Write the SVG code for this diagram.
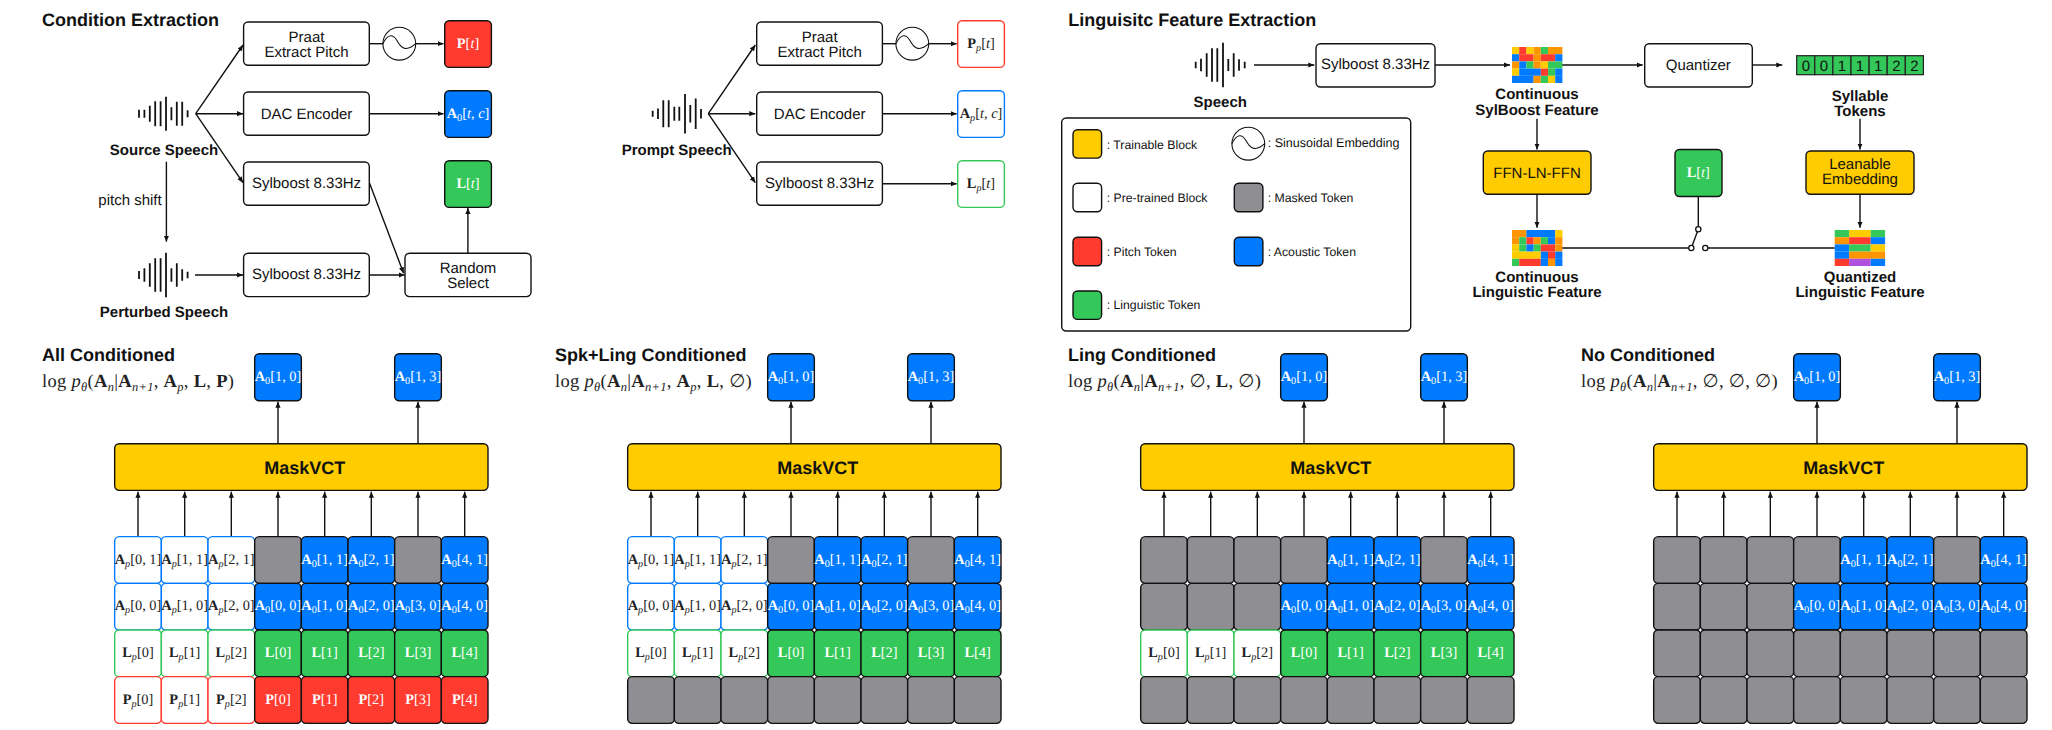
<svg xmlns="http://www.w3.org/2000/svg" width="2052" height="730" viewBox="0 0 2052 730">
<style>
text{font-family:"Liberation Sans",Arial,sans-serif;fill:#111;text-rendering:geometricPrecision}
.h{font-size:18px;font-weight:700}
.l{font-size:15px;font-weight:700;text-anchor:middle}
.r{font-size:15px;text-anchor:middle}
.g{font-size:12.25px}
.m{font-family:"Liberation Serif",serif;font-size:14.4px;text-anchor:middle;fill:#222}
.w{fill:#fff}
.f{font-family:"Liberation Serif",serif;font-size:18.5px;letter-spacing:.3px;fill:#222}
.b{font-weight:700}
.i{font-style:italic}
.s{font-size:10.2px;font-style:italic;baseline-shift:-3px}
.u{font-size:10.2px;baseline-shift:-3px}
.q{font-size:12.5px;font-style:italic;baseline-shift:-4px}
rect{stroke-width:1.4;rx:4.5px;ry:4.5px}
.y{fill:#FFCC00;stroke:#111}
.n{fill:#fff;stroke:#111}
.fb{fill:#007AFF;stroke:#111}
.fg{fill:#34C759;stroke:#111}
.fr{fill:#FF3B30;stroke:#111}
.fk{fill:#8E8E93;stroke:#111}
.wb{fill:#fff;stroke:#007AFF}
.wg{fill:#fff;stroke:#34C759}
.wr{fill:#fff;stroke:#FF3B30}
.c{fill:none;stroke:#111;stroke-width:1.4}
.a{marker-end:url(#arrow)}
.wave{fill:none;stroke:#111;stroke-width:1.8}
.sin{fill:none;stroke:#111;stroke-width:1.1}
.dot{fill:#fff;stroke:#111;stroke-width:1.3}
.hm rect{stroke:none;rx:0;ry:0}
.hY{fill:#FFCC00}.hR{fill:#FF3B30}.hO{fill:#FF9500}.hG{fill:#34C759}.hB{fill:#007AFF}.hP{fill:#AF52DE}
.tk{fill:#34C759;stroke:#222;stroke-width:1.2;rx:0;ry:0}
</style>
<defs>
<marker id="arrow" markerUnits="userSpaceOnUse" markerWidth="8" markerHeight="6" refX="6" refY="3" orient="auto"><path d="M0 .4L6 3L0 5.6z" fill="#111"/></marker>
<g id="panel-arrows">
<path class="c a" d="M138 536.7V491.7"/><path class="c a" d="M184.67 536.7V491.7"/><path class="c a" d="M231.33 536.7V491.7"/><path class="c a" d="M278 536.7V491.7"/>
<path class="c a" d="M324.67 536.7V491.7"/><path class="c a" d="M371.33 536.7V491.7"/><path class="c a" d="M418 536.7V491.7"/><path class="c a" d="M464.67 536.7V491.7"/>
<path class="c a" d="M278 443.7V401.8"/><path class="c a" d="M418 443.7V401.8"/>
</g>
<g id="sine"><circle r="16.4" class="sin"/><path class="sin" d="M-16.4 0C-11-11-6-9-2.5-3.5C1 3 6 9.5 16.4 0"/></g>
</defs>
<g id="connectors">
<path class="c a" d="M195.7 113.7L243 45"/>
<path class="c a" d="M195.7 113.7H243"/>
<path class="c a" d="M195.7 113.7L243 182.7"/>
<path class="c a" d="M166.4 161.7V241.7"/>
<path class="c a" d="M195 275H243"/>
<path class="c a" d="M369.6 183.3L403.6 273.3"/>
<path class="c a" d="M369.3 275H404.5"/>
<path class="c a" d="M467.9 253.3V208"/>
<path class="c" d="M369.3 43.7H383"/>
<path class="c a" d="M415.7 43.7H443.5"/>
<path class="c a" d="M369.3 113.7H443.5"/>
<path class="c a" d="M708.3 113.7L755.3 45"/>
<path class="c a" d="M708.3 113.7H755.3"/>
<path class="c a" d="M708.3 113.7L755.3 182.7"/>
<path class="c" d="M882.3 43.7H896"/>
<path class="c a" d="M928.7 43.7H956.7"/>
<path class="c a" d="M882.3 113.7H956.7"/>
<path class="c a" d="M882.3 183.7H956.7"/>
<path class="c a" d="M1254 65H1314.3"/>
<path class="c a" d="M1435 65H1510"/>
<path class="c a" d="M1562 65H1642.7"/>
<path class="c a" d="M1752.3 65H1782.3"/>
<path class="c a" d="M1537 118.7V149.5"/>
<path class="c a" d="M1537 194.3V227.7"/>
<path class="c a" d="M1860 118.7V149.5"/>
<path class="c a" d="M1860 194.3V227.7"/>
<path class="c" d="M1698.3 196.3V226.7"/>
<path class="c" d="M1562 248H1688.6"/>
<path class="c" d="M1708 248H1834.7"/>
<path class="c" d="M1691.3 248L1698.3 229.3"/>
<use href="#panel-arrows"/>
<use href="#panel-arrows" x="513"/>
<use href="#panel-arrows" x="1026"/>
<use href="#panel-arrows" x="1539"/>
</g>
<g id="switch">
<circle class="dot" cx="1698.3" cy="229.3" r="2.6"/>
<circle class="dot" cx="1691.3" cy="248" r="2.6"/>
<circle class="dot" cx="1705.3" cy="248" r="2.6"/>
</g>
<text class="h" x="42" y="25.7">Condition Extraction</text>
<text class="h" x="1068.3" y="25.7">Linguisitc Feature Extraction</text>
<g id="source-speech"><path class="wave" d="M139 109.7v8M144.4 109.7v8M149.8 105.7v16M155.2 101.2v25M160.6 101.2v25M166 96.7v34M171.4 107.2v13M176.8 101.7v24M182.2 101.7v24M187.6 110.2v7"/><text class="l" x="164" y="155.3">Source Speech</text></g>
<g id="perturbed-speech"><path class="wave" d="M139 271v8M144.4 268.3v13.4M149.8 263.3v23.4M155.2 258.3v33.4M160.6 258.3v33.4M166 252.7v44.6M171.4 268.3v13.4M176.8 263.3v23.4M182.2 269.3v11.4M187.6 271.7v6.6"/><text class="l" x="164" y="316.7">Perturbed Speech</text></g>
<text id="pitch-shift" class="r" x="130" y="205">pitch shift</text>
<g id="praat-1"><rect class="n" x="243.6" y="22" width="125.7" height="43.3"/><text class="r" x="306.5" y="41.7">Praat</text><text class="r" x="306.5" y="57">Extract Pitch</text></g>
<g id="dac-1"><rect class="n" x="243.6" y="92" width="125.7" height="43.3"/><text class="r" x="306.5" y="119">DAC Encoder</text></g>
<g id="sylboost-1"><rect class="n" x="243.6" y="162" width="125.7" height="43.3"/><text class="r" x="306.5" y="187.5">Sylboost 8.33Hz</text></g>
<g id="sylboost-2"><rect class="n" x="243.6" y="253.3" width="125.7" height="43.3"/><text class="r" x="306.5" y="279">Sylboost 8.33Hz</text></g>
<g id="random-select"><rect class="n" x="405" y="253.3" width="126" height="43.3"/><text class="r" x="468" y="273">Random</text><text class="r" x="468" y="288.3">Select</text></g>
<use id="sine-1" href="#sine" x="399.3" y="43.7"/>
<g id="token-p"><rect class="fr" x="444.7" y="20.7" width="46.7" height="46.7"/><text class="m w" x="468" y="47.7"><tspan class="b">P</tspan>[<tspan class="i">t</tspan>]</text></g>
<g id="token-a"><rect class="fb" x="444.7" y="90.7" width="46.7" height="46.7"/><text class="m w" x="468" y="117.7"><tspan class="b">A</tspan><tspan class="u">0</tspan>[<tspan class="i">t, c</tspan>]</text></g>
<g id="token-l"><rect class="fg" x="444.7" y="160.7" width="46.7" height="46.7"/><text class="m w" x="468" y="187.7"><tspan class="b">L</tspan>[<tspan class="i">t</tspan>]</text></g>
<g id="prompt-speech"><path class="wave" d="M652.7 110.7v6M658 108.4v10.6M663.3 100.2v27M668.7 100.2v27M674.3 106.7v14M679.3 106.7v14M685 94v39.4M690.3 105v17.4M695.7 98.4v30.6M701 109v9.4"/><text class="l" x="676.7" y="155.3">Prompt Speech</text></g>
<g id="praat-2"><rect class="n" x="756.7" y="22" width="125.7" height="43.3"/><text class="r" x="819.7" y="41.7">Praat</text><text class="r" x="819.7" y="57">Extract Pitch</text></g>
<g id="dac-2"><rect class="n" x="756.7" y="92" width="125.7" height="43.3"/><text class="r" x="819.7" y="119">DAC Encoder</text></g>
<g id="sylboost-3"><rect class="n" x="756.7" y="162" width="125.7" height="43.3"/><text class="r" x="819.7" y="187.5">Sylboost 8.33Hz</text></g>
<use id="sine-2" href="#sine" x="912.3" y="43.7"/>
<g id="token-pp"><rect class="wr" x="957.7" y="20.7" width="46.7" height="46.7"/><text class="m" x="981" y="47.7"><tspan class="b">P</tspan><tspan class="s">p</tspan>[<tspan class="i">t</tspan>]</text></g>
<g id="token-ap"><rect class="wb" x="957.7" y="90.7" width="46.7" height="46.7"/><text class="m" x="981" y="117.7"><tspan class="b">A</tspan><tspan class="s">p</tspan>[<tspan class="i">t, c</tspan>]</text></g>
<g id="token-lp"><rect class="wg" x="957.7" y="160.7" width="46.7" height="46.7"/><text class="m" x="981" y="187.7"><tspan class="b">L</tspan><tspan class="s">p</tspan>[<tspan class="i">t</tspan>]</text></g>
<g id="speech"><path class="wave" d="M1195.7 61.7v6.6M1201 58.7v12.6M1206.7 53.3v23.4M1212 48.3v33.4M1217.3 48.3v33.4M1223 42.7v44.6M1228.3 59v12M1233.7 53.3v23.4M1239 59.3v11.4M1244.7 61.7v6.6"/><text class="l" x="1220.3" y="107">Speech</text></g>
<g id="sylboost-4"><rect class="n" x="1316" y="43.7" width="119" height="43.3"/><text class="r" x="1375.5" y="69.3">Sylboost 8.33Hz</text></g>
<g id="heatmap-1" class="hm">
<rect class="hY" x="1512" y="47" width="7.2" height="7.2"/><rect class="hR" x="1519.2" y="47" width="7.2" height="7.2"/><rect class="hY" x="1526.4" y="47" width="7.2" height="7.2"/><rect class="hO" x="1533.6" y="47" width="7.2" height="7.2"/><rect class="hG" x="1540.8" y="47" width="7.2" height="7.2"/><rect class="hO" x="1548" y="47" width="14.4" height="7.2"/>
<rect class="hB" x="1512" y="54.2" width="7.2" height="7.2"/><rect class="hR" x="1519.2" y="54.2" width="14.4" height="7.2"/><rect class="hO" x="1533.6" y="54.2" width="7.2" height="7.2"/><rect class="hR" x="1540.8" y="54.2" width="14.4" height="7.2"/><rect class="hB" x="1555.2" y="54.2" width="7.2" height="7.2"/>
<rect class="hO" x="1512" y="61.4" width="7.2" height="7.2"/><rect class="hB" x="1519.2" y="61.4" width="7.2" height="7.2"/><rect class="hG" x="1526.4" y="61.4" width="7.2" height="7.2"/><rect class="hO" x="1533.6" y="61.4" width="7.2" height="7.2"/><rect class="hY" x="1540.8" y="61.4" width="7.2" height="7.2"/><rect class="hG" x="1548" y="61.4" width="14.4" height="7.2"/>
<rect class="hY" x="1512" y="68.6" width="7.2" height="7.2"/><rect class="hB" x="1519.2" y="68.6" width="21.6" height="7.2"/><rect class="hR" x="1540.8" y="68.6" width="7.2" height="7.2"/><rect class="hG" x="1548" y="68.6" width="7.2" height="7.2"/><rect class="hB" x="1555.2" y="68.6" width="7.2" height="7.2"/>
<rect class="hB" x="1512" y="75.8" width="21.6" height="7.2"/><rect class="hO" x="1533.6" y="75.8" width="7.2" height="7.2"/><rect class="hG" x="1540.8" y="75.8" width="7.2" height="7.2"/><rect class="hY" x="1548" y="75.8" width="7.2" height="7.2"/><rect class="hB" x="1555.2" y="75.8" width="7.2" height="7.2"/>
</g>
<g id="heatmap-label-1"><text class="l" x="1537" y="99.3">Continuous</text><text class="l" x="1537" y="114.7">SylBoost Feature</text></g>
<g id="ffn"><rect class="y" x="1483.3" y="151" width="107.7" height="43.3"/><text class="r" x="1537" y="178">FFN-LN-FFN</text></g>
<g id="heatmap-2" class="hm">
<rect class="hO" x="1512" y="230" width="14.4" height="7.2"/><rect class="hB" x="1526.4" y="230" width="28.8" height="7.2"/><rect class="hY" x="1555.2" y="230" width="7.2" height="7.2"/>
<rect class="hO" x="1512" y="237.2" width="7.2" height="7.2"/><rect class="hG" x="1519.2" y="237.2" width="7.2" height="7.2"/><rect class="hR" x="1526.4" y="237.2" width="7.2" height="7.2"/><rect class="hO" x="1533.6" y="237.2" width="7.2" height="7.2"/><rect class="hG" x="1540.8" y="237.2" width="7.2" height="7.2"/><rect class="hB" x="1548" y="237.2" width="7.2" height="7.2"/><rect class="hO" x="1555.2" y="237.2" width="7.2" height="7.2"/>
<rect class="hY" x="1512" y="244.4" width="7.2" height="7.2"/><rect class="hG" x="1519.2" y="244.4" width="7.2" height="7.2"/><rect class="hB" x="1526.4" y="244.4" width="7.2" height="7.2"/><rect class="hG" x="1533.6" y="244.4" width="7.2" height="7.2"/><rect class="hR" x="1540.8" y="244.4" width="14.4" height="7.2"/><rect class="hO" x="1555.2" y="244.4" width="7.2" height="7.2"/>
<rect class="hY" x="1512" y="251.6" width="28.8" height="7.2"/><rect class="hB" x="1540.8" y="251.6" width="7.2" height="7.2"/><rect class="hR" x="1548" y="251.6" width="7.2" height="7.2"/><rect class="hB" x="1555.2" y="251.6" width="7.2" height="7.2"/>
<rect class="hG" x="1512" y="258.8" width="7.2" height="7.2"/><rect class="hR" x="1519.2" y="258.8" width="21.6" height="7.2"/><rect class="hB" x="1540.8" y="258.8" width="7.2" height="7.2"/><rect class="hO" x="1548" y="258.8" width="7.2" height="7.2"/><rect class="hB" x="1555.2" y="258.8" width="7.2" height="7.2"/>
</g>
<g id="heatmap-label-2"><text class="l" x="1537" y="282">Continuous</text><text class="l" x="1537" y="297.3">Linguistic Feature</text></g>
<g id="quantizer"><rect class="n" x="1644.7" y="43.7" width="107.6" height="43.3"/><text class="r" x="1698.3" y="70">Quantizer</text></g>
<g id="syllable-tokens">
<rect class="tk" x="1796.7" y="55.7" width="18.1" height="19"/><rect class="tk" x="1814.8" y="55.7" width="18.1" height="19"/><rect class="tk" x="1832.9" y="55.7" width="18.1" height="19"/><rect class="tk" x="1851" y="55.7" width="18.1" height="19"/><rect class="tk" x="1869.1" y="55.7" width="18.1" height="19"/><rect class="tk" x="1887.2" y="55.7" width="18.1" height="19"/><rect class="tk" x="1905.3" y="55.7" width="18.1" height="19"/>
<text class="r" x="1805.8" y="70.5">0</text><text class="r" x="1823.9" y="70.5">0</text><text class="r" x="1842" y="70.5">1</text><text class="r" x="1860" y="70.5">1</text><text class="r" x="1878.2" y="70.5">1</text><text class="r" x="1896.3" y="70.5">2</text><text class="r" x="1914.4" y="70.5">2</text>
<text class="l" x="1860" y="101">Syllable</text><text class="l" x="1860" y="116.3">Tokens</text></g>
<g id="learnable-embedding"><rect class="y" x="1806" y="151" width="108" height="43.3"/><text class="r" x="1860" y="169">Leanable</text><text class="r" x="1860" y="184.3">Embedding</text></g>
<g id="token-l-switch"><rect class="fg" x="1675" y="149.5" width="47" height="47"/><text class="m w" x="1698.3" y="176.5"><tspan class="b">L</tspan>[<tspan class="i">t</tspan>]</text></g>
<g id="heatmap-3" class="hm">
<rect class="hG" x="1834.7" y="230" width="14.4" height="7.2"/><rect class="hY" x="1849.1" y="230" width="21.6" height="7.2"/><rect class="hG" x="1870.7" y="230" width="14.4" height="7.2"/>
<rect class="hO" x="1834.7" y="237.2" width="14.4" height="7.2"/><rect class="hR" x="1849.1" y="237.2" width="21.6" height="7.2"/><rect class="hB" x="1870.7" y="237.2" width="14.4" height="7.2"/>
<rect class="hB" x="1834.7" y="244.4" width="14.4" height="7.2"/><rect class="hG" x="1849.1" y="244.4" width="21.6" height="7.2"/><rect class="hY" x="1870.7" y="244.4" width="14.4" height="7.2"/>
<rect class="hB" x="1834.7" y="251.6" width="14.4" height="7.2"/><rect class="hO" x="1849.1" y="251.6" width="36" height="7.2"/>
<rect class="hR" x="1834.7" y="258.8" width="14.4" height="7.2"/><rect class="hP" x="1849.1" y="258.8" width="21.6" height="7.2"/><rect class="hB" x="1870.7" y="258.8" width="14.4" height="7.2"/>
</g>
<g id="heatmap-label-3"><text class="l" x="1860" y="282">Quantized</text><text class="l" x="1860" y="297.3">Linguistic Feature</text></g>
<g id="legend">
<rect class="n" x="1061.7" y="118" width="349" height="213"/>
<rect class="y" x="1073" y="129.7" width="28.6" height="28.4"/><text class="g" x="1106.7" y="148.5">: Trainable Block</text>
<rect class="n" x="1073" y="183.3" width="28.6" height="28.4"/><text class="g" x="1106.7" y="202.3">: Pre-trained Block</text>
<rect class="fr" x="1073" y="237.3" width="28.6" height="28.4"/><text class="g" x="1106.7" y="256">: Pitch Token</text>
<rect class="fg" x="1073" y="291" width="28.6" height="28.4"/><text class="g" x="1106.7" y="308.7">: Linguistic Token</text>
<use href="#sine" x="1248.3" y="143.7"/><text class="g" x="1267.7" y="147.3" style="font-size:12.55px">: Sinusoidal Embedding</text>
<rect class="fk" x="1234.3" y="183.3" width="28.6" height="28.4"/><text class="g" x="1267.7" y="202.3">: Masked Token</text>
<rect class="fb" x="1234.3" y="237.3" width="28.6" height="28.4"/><text class="g" x="1267.7" y="256">: Acoustic Token</text>
</g>
<g id="panel-1">
<text class="h" x="42" y="361">All Conditioned</text>
<text class="f" x="42" y="386.7">log <tspan class="i">p</tspan><tspan class="q">θ</tspan>(<tspan class="b">A</tspan><tspan class="q">n</tspan>|<tspan class="b">A</tspan><tspan class="q">n+1</tspan>, <tspan class="b">A</tspan><tspan class="q">p</tspan>, <tspan class="b">L</tspan>, <tspan class="b">P</tspan>)</text>
<g id="p1-out0"><rect class="fb" x="254.67" y="353.7" width="46.67" height="47"/><text class="m w" x="278" y="381.3"><tspan class="b">A</tspan><tspan class="u">0</tspan>[1, 0]</text></g>
<g id="p1-out3"><rect class="fb" x="394.67" y="353.7" width="46.67" height="47"/><text class="m w" x="418" y="381.3"><tspan class="b">A</tspan><tspan class="u">0</tspan>[1, 3]</text></g>
<g id="p1-model"><rect class="y" x="114.67" y="443.7" width="373.33" height="46.67"/><text class="h" x="304.7" y="474" text-anchor="middle">MaskVCT</text></g>
<g id="p1-r0c0"><rect class="wb" x="114.67" y="536.67" width="46.67" height="46.67"/><text class="m" x="138" y="563.5"><tspan class="b">A</tspan><tspan class="s">p</tspan>[0, 1]</text></g>
<g id="p1-r0c1"><rect class="wb" x="161.33" y="536.67" width="46.67" height="46.67"/><text class="m" x="184.67" y="563.5"><tspan class="b">A</tspan><tspan class="s">p</tspan>[1, 1]</text></g>
<g id="p1-r0c2"><rect class="wb" x="208" y="536.67" width="46.67" height="46.67"/><text class="m" x="231.33" y="563.5"><tspan class="b">A</tspan><tspan class="s">p</tspan>[2, 1]</text></g>
<g id="p1-r0c3"><rect class="fk" x="254.67" y="536.67" width="46.67" height="46.67"/></g>
<g id="p1-r0c4"><rect class="fb" x="301.33" y="536.67" width="46.67" height="46.67"/><text class="m w" x="324.67" y="563.5"><tspan class="b">A</tspan><tspan class="u">0</tspan>[1, 1]</text></g>
<g id="p1-r0c5"><rect class="fb" x="348" y="536.67" width="46.67" height="46.67"/><text class="m w" x="371.33" y="563.5"><tspan class="b">A</tspan><tspan class="u">0</tspan>[2, 1]</text></g>
<g id="p1-r0c6"><rect class="fk" x="394.67" y="536.67" width="46.67" height="46.67"/></g>
<g id="p1-r0c7"><rect class="fb" x="441.33" y="536.67" width="46.67" height="46.67"/><text class="m w" x="464.67" y="563.5"><tspan class="b">A</tspan><tspan class="u">0</tspan>[4, 1]</text></g>
<g id="p1-r1c0"><rect class="wb" x="114.67" y="583.33" width="46.67" height="46.67"/><text class="m" x="138" y="610"><tspan class="b">A</tspan><tspan class="s">p</tspan>[0, 0]</text></g>
<g id="p1-r1c1"><rect class="wb" x="161.33" y="583.33" width="46.67" height="46.67"/><text class="m" x="184.67" y="610"><tspan class="b">A</tspan><tspan class="s">p</tspan>[1, 0]</text></g>
<g id="p1-r1c2"><rect class="wb" x="208" y="583.33" width="46.67" height="46.67"/><text class="m" x="231.33" y="610"><tspan class="b">A</tspan><tspan class="s">p</tspan>[2, 0]</text></g>
<g id="p1-r1c3"><rect class="fb" x="254.67" y="583.33" width="46.67" height="46.67"/><text class="m w" x="278" y="610"><tspan class="b">A</tspan><tspan class="u">0</tspan>[0, 0]</text></g>
<g id="p1-r1c4"><rect class="fb" x="301.33" y="583.33" width="46.67" height="46.67"/><text class="m w" x="324.67" y="610"><tspan class="b">A</tspan><tspan class="u">0</tspan>[1, 0]</text></g>
<g id="p1-r1c5"><rect class="fb" x="348" y="583.33" width="46.67" height="46.67"/><text class="m w" x="371.33" y="610"><tspan class="b">A</tspan><tspan class="u">0</tspan>[2, 0]</text></g>
<g id="p1-r1c6"><rect class="fb" x="394.67" y="583.33" width="46.67" height="46.67"/><text class="m w" x="418" y="610"><tspan class="b">A</tspan><tspan class="u">0</tspan>[3, 0]</text></g>
<g id="p1-r1c7"><rect class="fb" x="441.33" y="583.33" width="46.67" height="46.67"/><text class="m w" x="464.67" y="610"><tspan class="b">A</tspan><tspan class="u">0</tspan>[4, 0]</text></g>
<g id="p1-r2c0"><rect class="wg" x="114.67" y="630" width="46.67" height="46.67"/><text class="m" x="138" y="657"><tspan class="b">L</tspan><tspan class="s">p</tspan>[0]</text></g>
<g id="p1-r2c1"><rect class="wg" x="161.33" y="630" width="46.67" height="46.67"/><text class="m" x="184.67" y="657"><tspan class="b">L</tspan><tspan class="s">p</tspan>[1]</text></g>
<g id="p1-r2c2"><rect class="wg" x="208" y="630" width="46.67" height="46.67"/><text class="m" x="231.33" y="657"><tspan class="b">L</tspan><tspan class="s">p</tspan>[2]</text></g>
<g id="p1-r2c3"><rect class="fg" x="254.67" y="630" width="46.67" height="46.67"/><text class="m w" x="278" y="657"><tspan class="b">L</tspan>[0]</text></g>
<g id="p1-r2c4"><rect class="fg" x="301.33" y="630" width="46.67" height="46.67"/><text class="m w" x="324.67" y="657"><tspan class="b">L</tspan>[1]</text></g>
<g id="p1-r2c5"><rect class="fg" x="348" y="630" width="46.67" height="46.67"/><text class="m w" x="371.33" y="657"><tspan class="b">L</tspan>[2]</text></g>
<g id="p1-r2c6"><rect class="fg" x="394.67" y="630" width="46.67" height="46.67"/><text class="m w" x="418" y="657"><tspan class="b">L</tspan>[3]</text></g>
<g id="p1-r2c7"><rect class="fg" x="441.33" y="630" width="46.67" height="46.67"/><text class="m w" x="464.67" y="657"><tspan class="b">L</tspan>[4]</text></g>
<g id="p1-r3c0"><rect class="wr" x="114.67" y="676.67" width="46.67" height="46.67"/><text class="m" x="138" y="704"><tspan class="b">P</tspan><tspan class="s">p</tspan>[0]</text></g>
<g id="p1-r3c1"><rect class="wr" x="161.33" y="676.67" width="46.67" height="46.67"/><text class="m" x="184.67" y="704"><tspan class="b">P</tspan><tspan class="s">p</tspan>[1]</text></g>
<g id="p1-r3c2"><rect class="wr" x="208" y="676.67" width="46.67" height="46.67"/><text class="m" x="231.33" y="704"><tspan class="b">P</tspan><tspan class="s">p</tspan>[2]</text></g>
<g id="p1-r3c3"><rect class="fr" x="254.67" y="676.67" width="46.67" height="46.67"/><text class="m w" x="278" y="704"><tspan class="b">P</tspan>[0]</text></g>
<g id="p1-r3c4"><rect class="fr" x="301.33" y="676.67" width="46.67" height="46.67"/><text class="m w" x="324.67" y="704"><tspan class="b">P</tspan>[1]</text></g>
<g id="p1-r3c5"><rect class="fr" x="348" y="676.67" width="46.67" height="46.67"/><text class="m w" x="371.33" y="704"><tspan class="b">P</tspan>[2]</text></g>
<g id="p1-r3c6"><rect class="fr" x="394.67" y="676.67" width="46.67" height="46.67"/><text class="m w" x="418" y="704"><tspan class="b">P</tspan>[3]</text></g>
<g id="p1-r3c7"><rect class="fr" x="441.33" y="676.67" width="46.67" height="46.67"/><text class="m w" x="464.67" y="704"><tspan class="b">P</tspan>[4]</text></g>
</g>
<g id="panel-2" transform="translate(513 0)">
<text class="h" x="42" y="361">Spk+Ling Conditioned</text>
<text class="f" x="42" y="386.7">log <tspan class="i">p</tspan><tspan class="q">θ</tspan>(<tspan class="b">A</tspan><tspan class="q">n</tspan>|<tspan class="b">A</tspan><tspan class="q">n+1</tspan>, <tspan class="b">A</tspan><tspan class="q">p</tspan>, <tspan class="b">L</tspan>, ∅)</text>
<g id="p2-out0"><rect class="fb" x="254.67" y="353.7" width="46.67" height="47"/><text class="m w" x="278" y="381.3"><tspan class="b">A</tspan><tspan class="u">0</tspan>[1, 0]</text></g>
<g id="p2-out3"><rect class="fb" x="394.67" y="353.7" width="46.67" height="47"/><text class="m w" x="418" y="381.3"><tspan class="b">A</tspan><tspan class="u">0</tspan>[1, 3]</text></g>
<g id="p2-model"><rect class="y" x="114.67" y="443.7" width="373.33" height="46.67"/><text class="h" x="304.7" y="474" text-anchor="middle">MaskVCT</text></g>
<g id="p2-r0c0"><rect class="wb" x="114.67" y="536.67" width="46.67" height="46.67"/><text class="m" x="138" y="563.5"><tspan class="b">A</tspan><tspan class="s">p</tspan>[0, 1]</text></g>
<g id="p2-r0c1"><rect class="wb" x="161.33" y="536.67" width="46.67" height="46.67"/><text class="m" x="184.67" y="563.5"><tspan class="b">A</tspan><tspan class="s">p</tspan>[1, 1]</text></g>
<g id="p2-r0c2"><rect class="wb" x="208" y="536.67" width="46.67" height="46.67"/><text class="m" x="231.33" y="563.5"><tspan class="b">A</tspan><tspan class="s">p</tspan>[2, 1]</text></g>
<g id="p2-r0c3"><rect class="fk" x="254.67" y="536.67" width="46.67" height="46.67"/></g>
<g id="p2-r0c4"><rect class="fb" x="301.33" y="536.67" width="46.67" height="46.67"/><text class="m w" x="324.67" y="563.5"><tspan class="b">A</tspan><tspan class="u">0</tspan>[1, 1]</text></g>
<g id="p2-r0c5"><rect class="fb" x="348" y="536.67" width="46.67" height="46.67"/><text class="m w" x="371.33" y="563.5"><tspan class="b">A</tspan><tspan class="u">0</tspan>[2, 1]</text></g>
<g id="p2-r0c6"><rect class="fk" x="394.67" y="536.67" width="46.67" height="46.67"/></g>
<g id="p2-r0c7"><rect class="fb" x="441.33" y="536.67" width="46.67" height="46.67"/><text class="m w" x="464.67" y="563.5"><tspan class="b">A</tspan><tspan class="u">0</tspan>[4, 1]</text></g>
<g id="p2-r1c0"><rect class="wb" x="114.67" y="583.33" width="46.67" height="46.67"/><text class="m" x="138" y="610"><tspan class="b">A</tspan><tspan class="s">p</tspan>[0, 0]</text></g>
<g id="p2-r1c1"><rect class="wb" x="161.33" y="583.33" width="46.67" height="46.67"/><text class="m" x="184.67" y="610"><tspan class="b">A</tspan><tspan class="s">p</tspan>[1, 0]</text></g>
<g id="p2-r1c2"><rect class="wb" x="208" y="583.33" width="46.67" height="46.67"/><text class="m" x="231.33" y="610"><tspan class="b">A</tspan><tspan class="s">p</tspan>[2, 0]</text></g>
<g id="p2-r1c3"><rect class="fb" x="254.67" y="583.33" width="46.67" height="46.67"/><text class="m w" x="278" y="610"><tspan class="b">A</tspan><tspan class="u">0</tspan>[0, 0]</text></g>
<g id="p2-r1c4"><rect class="fb" x="301.33" y="583.33" width="46.67" height="46.67"/><text class="m w" x="324.67" y="610"><tspan class="b">A</tspan><tspan class="u">0</tspan>[1, 0]</text></g>
<g id="p2-r1c5"><rect class="fb" x="348" y="583.33" width="46.67" height="46.67"/><text class="m w" x="371.33" y="610"><tspan class="b">A</tspan><tspan class="u">0</tspan>[2, 0]</text></g>
<g id="p2-r1c6"><rect class="fb" x="394.67" y="583.33" width="46.67" height="46.67"/><text class="m w" x="418" y="610"><tspan class="b">A</tspan><tspan class="u">0</tspan>[3, 0]</text></g>
<g id="p2-r1c7"><rect class="fb" x="441.33" y="583.33" width="46.67" height="46.67"/><text class="m w" x="464.67" y="610"><tspan class="b">A</tspan><tspan class="u">0</tspan>[4, 0]</text></g>
<g id="p2-r2c0"><rect class="wg" x="114.67" y="630" width="46.67" height="46.67"/><text class="m" x="138" y="657"><tspan class="b">L</tspan><tspan class="s">p</tspan>[0]</text></g>
<g id="p2-r2c1"><rect class="wg" x="161.33" y="630" width="46.67" height="46.67"/><text class="m" x="184.67" y="657"><tspan class="b">L</tspan><tspan class="s">p</tspan>[1]</text></g>
<g id="p2-r2c2"><rect class="wg" x="208" y="630" width="46.67" height="46.67"/><text class="m" x="231.33" y="657"><tspan class="b">L</tspan><tspan class="s">p</tspan>[2]</text></g>
<g id="p2-r2c3"><rect class="fg" x="254.67" y="630" width="46.67" height="46.67"/><text class="m w" x="278" y="657"><tspan class="b">L</tspan>[0]</text></g>
<g id="p2-r2c4"><rect class="fg" x="301.33" y="630" width="46.67" height="46.67"/><text class="m w" x="324.67" y="657"><tspan class="b">L</tspan>[1]</text></g>
<g id="p2-r2c5"><rect class="fg" x="348" y="630" width="46.67" height="46.67"/><text class="m w" x="371.33" y="657"><tspan class="b">L</tspan>[2]</text></g>
<g id="p2-r2c6"><rect class="fg" x="394.67" y="630" width="46.67" height="46.67"/><text class="m w" x="418" y="657"><tspan class="b">L</tspan>[3]</text></g>
<g id="p2-r2c7"><rect class="fg" x="441.33" y="630" width="46.67" height="46.67"/><text class="m w" x="464.67" y="657"><tspan class="b">L</tspan>[4]</text></g>
<g id="p2-r3"><rect class="fk" x="114.67" y="676.67" width="46.67" height="46.67"/><rect class="fk" x="161.33" y="676.67" width="46.67" height="46.67"/><rect class="fk" x="208" y="676.67" width="46.67" height="46.67"/><rect class="fk" x="254.67" y="676.67" width="46.67" height="46.67"/><rect class="fk" x="301.33" y="676.67" width="46.67" height="46.67"/><rect class="fk" x="348" y="676.67" width="46.67" height="46.67"/><rect class="fk" x="394.67" y="676.67" width="46.67" height="46.67"/><rect class="fk" x="441.33" y="676.67" width="46.67" height="46.67"/></g>
</g>
<g id="panel-3" transform="translate(1026 0)">
<text class="h" x="42" y="361">Ling Conditioned</text>
<text class="f" x="42" y="386.7">log <tspan class="i">p</tspan><tspan class="q">θ</tspan>(<tspan class="b">A</tspan><tspan class="q">n</tspan>|<tspan class="b">A</tspan><tspan class="q">n+1</tspan>, ∅, <tspan class="b">L</tspan>, ∅)</text>
<g id="p3-out0"><rect class="fb" x="254.67" y="353.7" width="46.67" height="47"/><text class="m w" x="278" y="381.3"><tspan class="b">A</tspan><tspan class="u">0</tspan>[1, 0]</text></g>
<g id="p3-out3"><rect class="fb" x="394.67" y="353.7" width="46.67" height="47"/><text class="m w" x="418" y="381.3"><tspan class="b">A</tspan><tspan class="u">0</tspan>[1, 3]</text></g>
<g id="p3-model"><rect class="y" x="114.67" y="443.7" width="373.33" height="46.67"/><text class="h" x="304.7" y="474" text-anchor="middle">MaskVCT</text></g>
<g id="p3-r0m"><rect class="fk" x="114.67" y="536.67" width="46.67" height="46.67"/><rect class="fk" x="161.33" y="536.67" width="46.67" height="46.67"/><rect class="fk" x="208" y="536.67" width="46.67" height="46.67"/><rect class="fk" x="254.67" y="536.67" width="46.67" height="46.67"/></g>
<g id="p3-r0c4"><rect class="fb" x="301.33" y="536.67" width="46.67" height="46.67"/><text class="m w" x="324.67" y="563.5"><tspan class="b">A</tspan><tspan class="u">0</tspan>[1, 1]</text></g>
<g id="p3-r0c5"><rect class="fb" x="348" y="536.67" width="46.67" height="46.67"/><text class="m w" x="371.33" y="563.5"><tspan class="b">A</tspan><tspan class="u">0</tspan>[2, 1]</text></g>
<g id="p3-r0c6"><rect class="fk" x="394.67" y="536.67" width="46.67" height="46.67"/></g>
<g id="p3-r0c7"><rect class="fb" x="441.33" y="536.67" width="46.67" height="46.67"/><text class="m w" x="464.67" y="563.5"><tspan class="b">A</tspan><tspan class="u">0</tspan>[4, 1]</text></g>
<g id="p3-r1m"><rect class="fk" x="114.67" y="583.33" width="46.67" height="46.67"/><rect class="fk" x="161.33" y="583.33" width="46.67" height="46.67"/><rect class="fk" x="208" y="583.33" width="46.67" height="46.67"/></g>
<g id="p3-r1c3"><rect class="fb" x="254.67" y="583.33" width="46.67" height="46.67"/><text class="m w" x="278" y="610"><tspan class="b">A</tspan><tspan class="u">0</tspan>[0, 0]</text></g>
<g id="p3-r1c4"><rect class="fb" x="301.33" y="583.33" width="46.67" height="46.67"/><text class="m w" x="324.67" y="610"><tspan class="b">A</tspan><tspan class="u">0</tspan>[1, 0]</text></g>
<g id="p3-r1c5"><rect class="fb" x="348" y="583.33" width="46.67" height="46.67"/><text class="m w" x="371.33" y="610"><tspan class="b">A</tspan><tspan class="u">0</tspan>[2, 0]</text></g>
<g id="p3-r1c6"><rect class="fb" x="394.67" y="583.33" width="46.67" height="46.67"/><text class="m w" x="418" y="610"><tspan class="b">A</tspan><tspan class="u">0</tspan>[3, 0]</text></g>
<g id="p3-r1c7"><rect class="fb" x="441.33" y="583.33" width="46.67" height="46.67"/><text class="m w" x="464.67" y="610"><tspan class="b">A</tspan><tspan class="u">0</tspan>[4, 0]</text></g>
<g id="p3-r2c0"><rect class="wg" x="114.67" y="630" width="46.67" height="46.67"/><text class="m" x="138" y="657"><tspan class="b">L</tspan><tspan class="s">p</tspan>[0]</text></g>
<g id="p3-r2c1"><rect class="wg" x="161.33" y="630" width="46.67" height="46.67"/><text class="m" x="184.67" y="657"><tspan class="b">L</tspan><tspan class="s">p</tspan>[1]</text></g>
<g id="p3-r2c2"><rect class="wg" x="208" y="630" width="46.67" height="46.67"/><text class="m" x="231.33" y="657"><tspan class="b">L</tspan><tspan class="s">p</tspan>[2]</text></g>
<g id="p3-r2c3"><rect class="fg" x="254.67" y="630" width="46.67" height="46.67"/><text class="m w" x="278" y="657"><tspan class="b">L</tspan>[0]</text></g>
<g id="p3-r2c4"><rect class="fg" x="301.33" y="630" width="46.67" height="46.67"/><text class="m w" x="324.67" y="657"><tspan class="b">L</tspan>[1]</text></g>
<g id="p3-r2c5"><rect class="fg" x="348" y="630" width="46.67" height="46.67"/><text class="m w" x="371.33" y="657"><tspan class="b">L</tspan>[2]</text></g>
<g id="p3-r2c6"><rect class="fg" x="394.67" y="630" width="46.67" height="46.67"/><text class="m w" x="418" y="657"><tspan class="b">L</tspan>[3]</text></g>
<g id="p3-r2c7"><rect class="fg" x="441.33" y="630" width="46.67" height="46.67"/><text class="m w" x="464.67" y="657"><tspan class="b">L</tspan>[4]</text></g>
<g id="p3-r3"><rect class="fk" x="114.67" y="676.67" width="46.67" height="46.67"/><rect class="fk" x="161.33" y="676.67" width="46.67" height="46.67"/><rect class="fk" x="208" y="676.67" width="46.67" height="46.67"/><rect class="fk" x="254.67" y="676.67" width="46.67" height="46.67"/><rect class="fk" x="301.33" y="676.67" width="46.67" height="46.67"/><rect class="fk" x="348" y="676.67" width="46.67" height="46.67"/><rect class="fk" x="394.67" y="676.67" width="46.67" height="46.67"/><rect class="fk" x="441.33" y="676.67" width="46.67" height="46.67"/></g>
</g>
<g id="panel-4" transform="translate(1539 0)">
<text class="h" x="42" y="361">No Conditioned</text>
<text class="f" x="42" y="386.7">log <tspan class="i">p</tspan><tspan class="q">θ</tspan>(<tspan class="b">A</tspan><tspan class="q">n</tspan>|<tspan class="b">A</tspan><tspan class="q">n+1</tspan>, ∅, ∅, ∅)</text>
<g id="p4-out0"><rect class="fb" x="254.67" y="353.7" width="46.67" height="47"/><text class="m w" x="278" y="381.3"><tspan class="b">A</tspan><tspan class="u">0</tspan>[1, 0]</text></g>
<g id="p4-out3"><rect class="fb" x="394.67" y="353.7" width="46.67" height="47"/><text class="m w" x="418" y="381.3"><tspan class="b">A</tspan><tspan class="u">0</tspan>[1, 3]</text></g>
<g id="p4-model"><rect class="y" x="114.67" y="443.7" width="373.33" height="46.67"/><text class="h" x="304.7" y="474" text-anchor="middle">MaskVCT</text></g>
<g id="p4-r0m"><rect class="fk" x="114.67" y="536.67" width="46.67" height="46.67"/><rect class="fk" x="161.33" y="536.67" width="46.67" height="46.67"/><rect class="fk" x="208" y="536.67" width="46.67" height="46.67"/><rect class="fk" x="254.67" y="536.67" width="46.67" height="46.67"/></g>
<g id="p4-r0c4"><rect class="fb" x="301.33" y="536.67" width="46.67" height="46.67"/><text class="m w" x="324.67" y="563.5"><tspan class="b">A</tspan><tspan class="u">0</tspan>[1, 1]</text></g>
<g id="p4-r0c5"><rect class="fb" x="348" y="536.67" width="46.67" height="46.67"/><text class="m w" x="371.33" y="563.5"><tspan class="b">A</tspan><tspan class="u">0</tspan>[2, 1]</text></g>
<g id="p4-r0c6"><rect class="fk" x="394.67" y="536.67" width="46.67" height="46.67"/></g>
<g id="p4-r0c7"><rect class="fb" x="441.33" y="536.67" width="46.67" height="46.67"/><text class="m w" x="464.67" y="563.5"><tspan class="b">A</tspan><tspan class="u">0</tspan>[4, 1]</text></g>
<g id="p4-r1m"><rect class="fk" x="114.67" y="583.33" width="46.67" height="46.67"/><rect class="fk" x="161.33" y="583.33" width="46.67" height="46.67"/><rect class="fk" x="208" y="583.33" width="46.67" height="46.67"/></g>
<g id="p4-r1c3"><rect class="fb" x="254.67" y="583.33" width="46.67" height="46.67"/><text class="m w" x="278" y="610"><tspan class="b">A</tspan><tspan class="u">0</tspan>[0, 0]</text></g>
<g id="p4-r1c4"><rect class="fb" x="301.33" y="583.33" width="46.67" height="46.67"/><text class="m w" x="324.67" y="610"><tspan class="b">A</tspan><tspan class="u">0</tspan>[1, 0]</text></g>
<g id="p4-r1c5"><rect class="fb" x="348" y="583.33" width="46.67" height="46.67"/><text class="m w" x="371.33" y="610"><tspan class="b">A</tspan><tspan class="u">0</tspan>[2, 0]</text></g>
<g id="p4-r1c6"><rect class="fb" x="394.67" y="583.33" width="46.67" height="46.67"/><text class="m w" x="418" y="610"><tspan class="b">A</tspan><tspan class="u">0</tspan>[3, 0]</text></g>
<g id="p4-r1c7"><rect class="fb" x="441.33" y="583.33" width="46.67" height="46.67"/><text class="m w" x="464.67" y="610"><tspan class="b">A</tspan><tspan class="u">0</tspan>[4, 0]</text></g>
<g id="p4-r2"><rect class="fk" x="114.67" y="630" width="46.67" height="46.67"/><rect class="fk" x="161.33" y="630" width="46.67" height="46.67"/><rect class="fk" x="208" y="630" width="46.67" height="46.67"/><rect class="fk" x="254.67" y="630" width="46.67" height="46.67"/><rect class="fk" x="301.33" y="630" width="46.67" height="46.67"/><rect class="fk" x="348" y="630" width="46.67" height="46.67"/><rect class="fk" x="394.67" y="630" width="46.67" height="46.67"/><rect class="fk" x="441.33" y="630" width="46.67" height="46.67"/></g>
<g id="p4-r3"><rect class="fk" x="114.67" y="676.67" width="46.67" height="46.67"/><rect class="fk" x="161.33" y="676.67" width="46.67" height="46.67"/><rect class="fk" x="208" y="676.67" width="46.67" height="46.67"/><rect class="fk" x="254.67" y="676.67" width="46.67" height="46.67"/><rect class="fk" x="301.33" y="676.67" width="46.67" height="46.67"/><rect class="fk" x="348" y="676.67" width="46.67" height="46.67"/><rect class="fk" x="394.67" y="676.67" width="46.67" height="46.67"/><rect class="fk" x="441.33" y="676.67" width="46.67" height="46.67"/></g>
</g>
</svg>
